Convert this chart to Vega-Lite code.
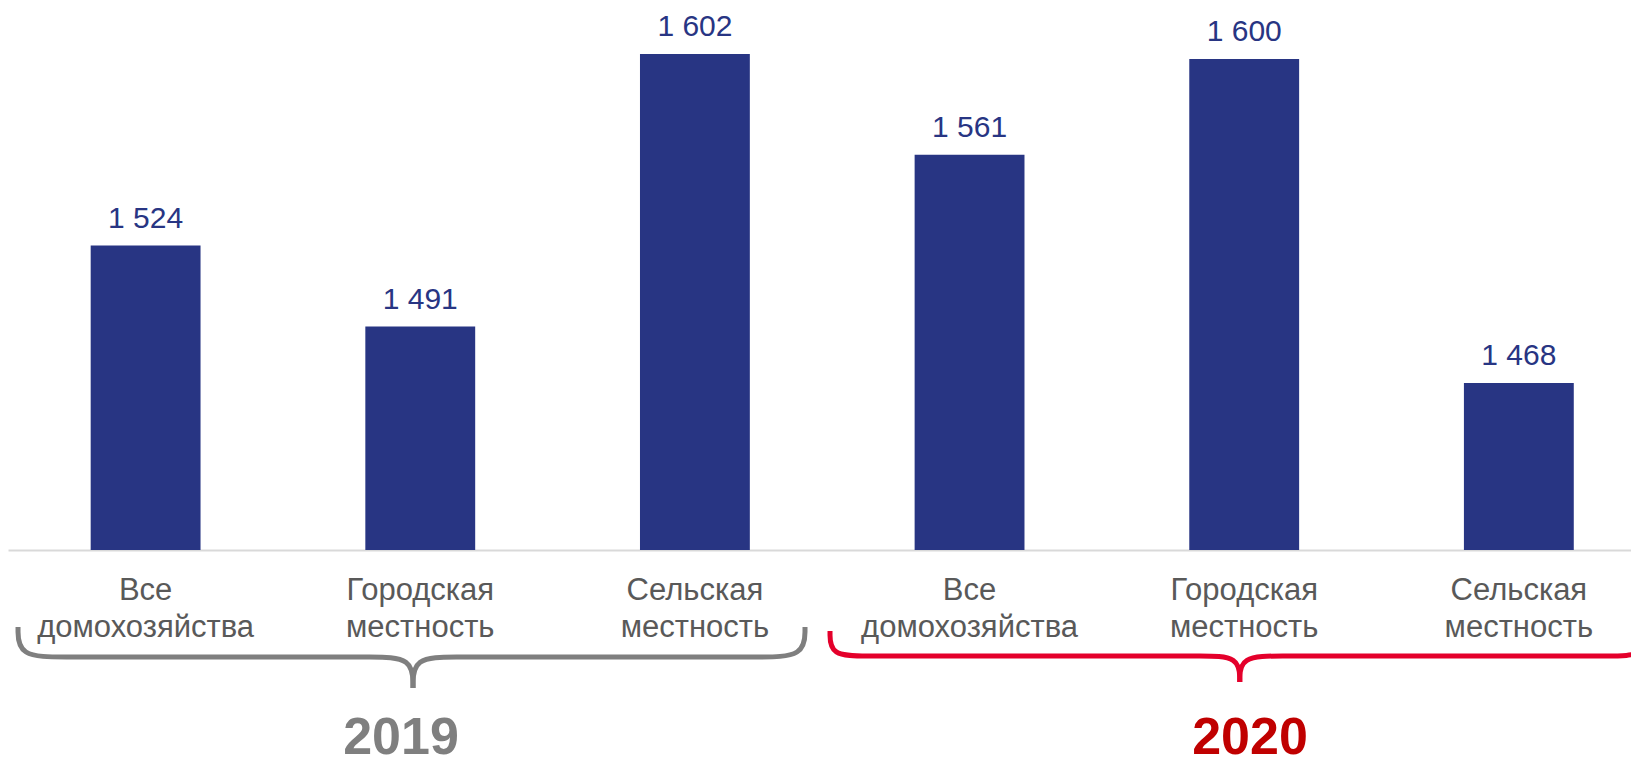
{
  "$schema": "https://vega.github.io/schema/vega-lite/v6.json",
  "autosize": {"type": "none"},
  "width": 1623,
  "height": 550,
  "padding": {"left": 8, "top": 0, "right": 0, "bottom": 214},
  "background": "white",
  "config": {"view": {"stroke": null}, "font": "Liberation Sans"},
  "datasets": {
    "bars": [
      {"cat": "Все домохозяйства|2019", "value": 1524},
      {"cat": "Городская местность|2019", "value": 1491},
      {"cat": "Сельская местность|2019", "value": 1602},
      {"cat": "Все домохозяйства|2020", "value": 1561},
      {"cat": "Городская местность|2020", "value": 1600},
      {"cat": "Сельская местность|2020", "value": 1468}
    ],
    "braces": [
      {"part": "2019L", "year": "2019", "i": 0, "u": -0.4635, "v": 1368.64},
      {"part": "2019L", "year": "2019", "i": 1, "u": -0.4635, "v": 1356.42},
      {"part": "2019L", "year": "2019", "i": 2, "u": -0.2888, "v": 1356.42},
      {"part": "2019L", "year": "2019", "i": 3, "u": -0.114, "v": 1356.42},
      {"part": "2019L", "year": "2019", "i": 4, "u": 0.6544, "v": 1356.42},
      {"part": "2019L", "year": "2019", "i": 5, "u": 0.8183, "v": 1356.42},
      {"part": "2019L", "year": "2019", "i": 6, "u": 0.9748, "v": 1356.42},
      {"part": "2019L", "year": "2019", "i": 7, "u": 0.9748, "v": 1343.79},
      {"part": "2019R", "year": "2019", "i": 0, "u": 0.9748, "v": 1343.79},
      {"part": "2019R", "year": "2019", "i": 1, "u": 0.9748, "v": 1356.42},
      {"part": "2019R", "year": "2019", "i": 2, "u": 1.1314, "v": 1356.42},
      {"part": "2019R", "year": "2019", "i": 3, "u": 1.2953, "v": 1356.42},
      {"part": "2019R", "year": "2019", "i": 4, "u": 2.0527, "v": 1356.42},
      {"part": "2019R", "year": "2019", "i": 5, "u": 2.2275, "v": 1356.42},
      {"part": "2019R", "year": "2019", "i": 6, "u": 2.4022, "v": 1356.42},
      {"part": "2019R", "year": "2019", "i": 7, "u": 2.4022, "v": 1368.64},
      {"part": "2020L", "year": "2020", "i": 0, "u": 2.4933, "v": 1367.01},
      {"part": "2020L", "year": "2020", "i": 1, "u": 2.4933, "v": 1356.82},
      {"part": "2020L", "year": "2020", "i": 2, "u": 2.6316, "v": 1356.82},
      {"part": "2020L", "year": "2020", "i": 3, "u": 2.77, "v": 1356.82},
      {"part": "2020L", "year": "2020", "i": 4, "u": 3.6941, "v": 1356.82},
      {"part": "2020L", "year": "2020", "i": 5, "u": 3.8398, "v": 1356.82},
      {"part": "2020L", "year": "2020", "i": 6, "u": 3.9854, "v": 1356.82},
      {"part": "2020L", "year": "2020", "i": 7, "u": 3.9854, "v": 1346.23},
      {"part": "2020R", "year": "2020", "i": 0, "u": 3.9854, "v": 1346.23},
      {"part": "2020R", "year": "2020", "i": 1, "u": 3.9854, "v": 1356.82},
      {"part": "2020R", "year": "2020", "i": 2, "u": 4.142, "v": 1356.82},
      {"part": "2020R", "year": "2020", "i": 3, "u": 4.2986, "v": 1356.82},
      {"part": "2020R", "year": "2020", "i": 4, "u": 5.1507, "v": 1356.82},
      {"part": "2020R", "year": "2020", "i": 5, "u": 5.3145, "v": 1356.82},
      {"part": "2020R", "year": "2020", "i": 6, "u": 5.4784, "v": 1356.82},
      {"part": "2020R", "year": "2020", "i": 7, "u": 5.4784, "v": 1369.04}
    ],
    "years": [
      {"year": "2019", "u": 0.931},
      {"year": "2020", "u": 4.0226}
    ]
  },
  "resolve": {"scale": {"x": "independent"}},
  "layer": [
    {
      "data": {"name": "bars"},
      "transform": [
        {"calculate": "replace(format(datum.value, ','), ',', ' ')", "as": "label"}
      ],
      "encoding": {
        "x": {
          "field": "cat",
          "type": "nominal",
          "sort": null,
          "scale": {"paddingInner": 0.6, "paddingOuter": 0.2547, "align": 0.591},
          "axis": {
            "title": null,
            "domainColor": "#d9d9d9",
            "domainWidth": 2,
            "ticks": false,
            "tickSize": 0,
            "labelPadding": 25,
            "labelFontSize": 31,
            "labelFont": "Liberation Sans",
            "labelColor": "#595959",
            "labelLineHeight": 37,
            "labelAngle": 0,
            "labelOverlap": false,
            "labelLimit": 500,
            "labelExpr": "split(split(datum.label, '|')[0], ' ')"
          }
        },
        "y": {
          "field": "value",
          "type": "quantitative",
          "scale": {"domain": [1400, 1624], "zero": false, "nice": false},
          "axis": null
        }
      },
      "layer": [
        {
          "mark": {"type": "bar", "color": "#283583"},
          "encoding": {"y2": {"datum": 1400}}
        },
        {
          "mark": {"type": "text", "color": "#283583", "fontSize": 30, "baseline": "alphabetic", "dy": -18, "font": "Liberation Sans"},
          "encoding": {"text": {"field": "label"}}
        }
      ]
    },
    {
      "layer": [
        {
          "data": {"name": "braces"},
          "mark": {"type": "line", "interpolate": "basis", "strokeWidth": 5, "strokeCap": "butt", "clip": false},
          "encoding": {
            "x": {"field": "u", "type": "quantitative", "scale": {"domain": [-0.5, 5.41], "nice": false, "zero": false}, "axis": null},
            "y": {"field": "v", "type": "quantitative", "scale": {"domain": [1400, 1624], "zero": false, "nice": false}, "axis": null},
            "detail": {"field": "part"},
            "order": {"field": "i", "type": "quantitative"},
            "color": {"condition": {"test": "datum.year === '2019'", "value": "#7f7f7f"}, "value": "#e4002b"}
          }
        },
        {
          "data": {"name": "years"},
          "mark": {"type": "text", "fontSize": 52, "fontWeight": "bold", "baseline": "alphabetic", "font": "Liberation Sans"},
          "encoding": {
            "x": {"field": "u", "type": "quantitative", "scale": {"domain": [-0.5, 5.41], "nice": false, "zero": false}, "axis": null},
            "y": {"datum": 1316.9, "type": "quantitative"},
            "text": {"field": "year"},
            "color": {"condition": {"test": "datum.year === '2019'", "value": "#7f7f7f"}, "value": "#c00000"}
          }
        }
      ]
    }
  ]
}
